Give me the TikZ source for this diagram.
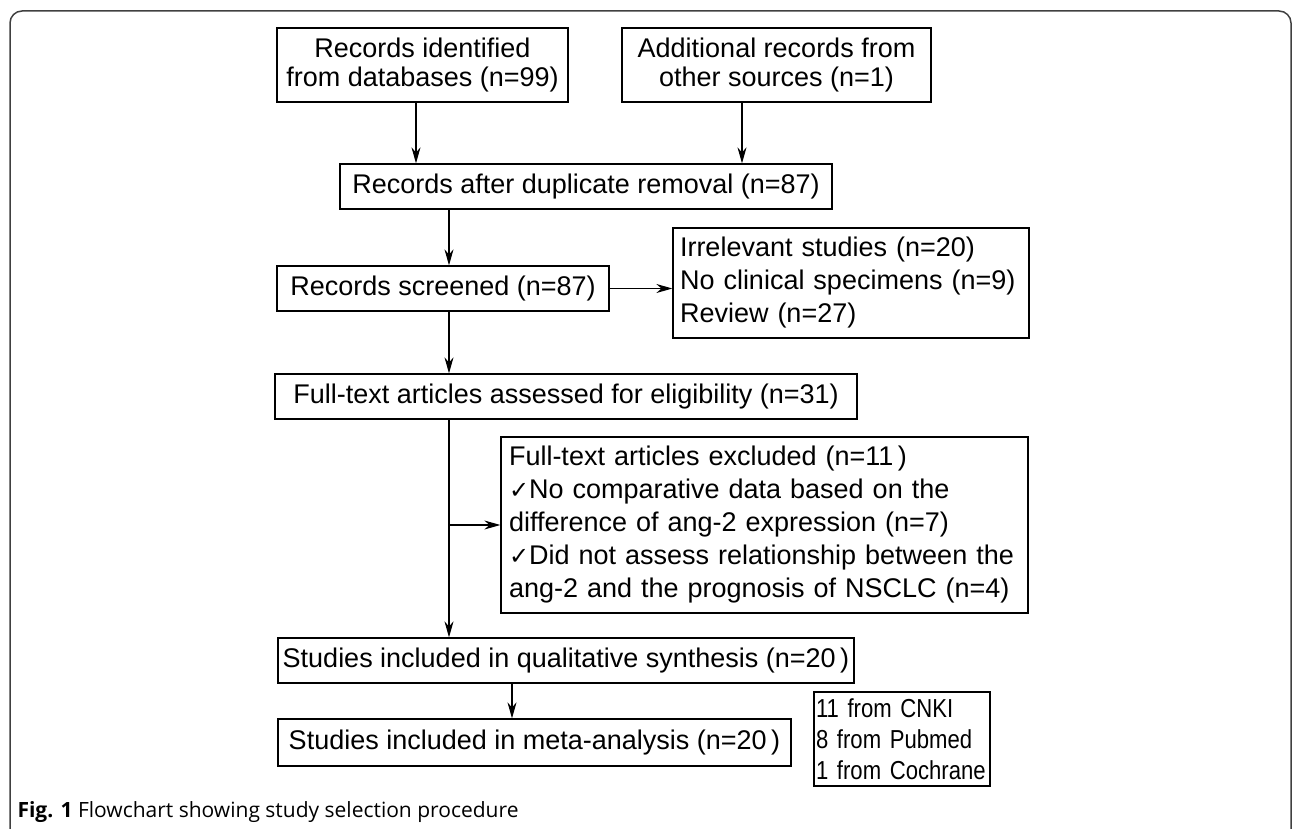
\documentclass[tikz,border=0pt]{standalone}
\usepackage{fontspec}
\setmainfont{Liberation Sans}
\newfontfamily\checkfont{DejaVu Sans}
\newfontfamily\narrowfont[FakeStretch=0.85, WordSpace=0.6]{Liberation Sans}
\newfontfamily\capfont{Open Sans}
\usetikzlibrary{arrows.meta, positioning}
\tikzset{
  box/.style={rectangle, draw=black, line width=1.3pt, inner sep=0pt,
              font=\fontsize{27}{29}\selectfont, align=center},
  listbox/.style={box, align=left, font=\fontsize{27}{33}\selectfont},
  srcbox/.style={box, align=left, font=\narrowfont\fontsize{26}{31}\selectfont},
  arrow/.style={-{Stealth[length=16pt, width=9pt]}, line width=1.1pt},
  outline/.style={draw=black!75, line width=1.5pt, rounded corners=12pt},
}
\newcommand{\chk}{{\checkfont\fontsize{24}{33}\selectfont\char"2713}}

\begin{document}
\begin{tikzpicture}[x=1pt, y=-1pt]
  \path[use as bounding box] (0,0) rectangle (1292,829);
  \draw[outline] (10,829) -- (10,11) -- (1291,11) -- (1291,829);
  % boxes
  \node[box, minimum width=291pt, minimum height=74pt] (ident) at (422.5,65)
    {Records identified\\from databases (n=99)};
  \node[box, minimum width=309pt, minimum height=74pt] (other) at (776.5,65)
    {Additional records from\\other sources (n=1)};
  \node[box, minimum width=492pt, minimum height=45pt] (dup) at (586,186.5)
    {Records after duplicate removal (n=87)};
  \node[box, minimum width=332pt, minimum height=45pt] (screen) at (443,288.5)
    {Records screened (n=87)};
  \node[listbox, minimum width=356pt, minimum height=110pt, text width=342pt] (excl) at (851,283)
    {Irrelevant studies (n=20)\\No clinical specimens (n=9)\\Review (n=27)};
  \node[box, minimum width=582pt, minimum height=45pt] (full) at (566,396.5)
    {Full-text articles assessed for eligibility (n=31)};
  \node[listbox, minimum width=527pt, minimum height=176pt, text width=511pt] (excl2) at (764.5,525)
    {Full-text articles excluded (n=11\,)\\
     \chk No comparative data based on the\\
     difference of ang-2 expression (n=7)\\
     \chk Did not assess relationship between the\\
     ang-2 and the prognosis of NSCLC (n=4)};
  \node[box, minimum width=576pt, minimum height=45pt] (qual) at (566,660.5)
    {Studies included in qualitative synthesis (n=20\,)};
  \node[box, minimum width=513pt, minimum height=47pt] (meta) at (534.5,742.5)
    {Studies included in meta-analysis (n=20\,)};
  \node[srcbox, minimum width=176pt, minimum height=94pt, text width=172pt] (src) at (902,739)
    {11 from CNKI\\8 from Pubmed\\1 from Cochrane};
  \node[anchor=west, font=\capfont\fontsize{21}{23}\selectfont] (cap) at (14,812)
    {\textbf{Fig. 1} Flowchart showing study selection procedure};
  % arrows
  \draw[arrow] ([xshift=-6.5pt]ident.south) -- ([xshift=-6.5pt]ident.south |- dup.north);
  \draw[arrow] ([xshift=-34.5pt]other.south) -- ([xshift=-34.5pt]other.south |- dup.north);
  \draw[arrow] ([xshift=6pt]screen.north |- dup.south) -- ([xshift=6pt]screen.north);
  \draw[arrow] (screen.east) -- (screen.east -| excl.west);
  \draw[arrow] ([xshift=6pt]screen.south) -- ([xshift=6pt]screen.south |- full.north);
  \coordinate (split) at ([xshift=-117pt]full.south |- excl2.west);
  \draw[arrow] ([xshift=-117pt]full.south) -- ([xshift=-117pt]qual.north);
  \draw[arrow] (split) -- (excl2.west);
  \draw[arrow] ([xshift=-54pt]qual.south) -- ([xshift=-54pt]qual.south |- meta.north);
\end{tikzpicture}
\end{document}
